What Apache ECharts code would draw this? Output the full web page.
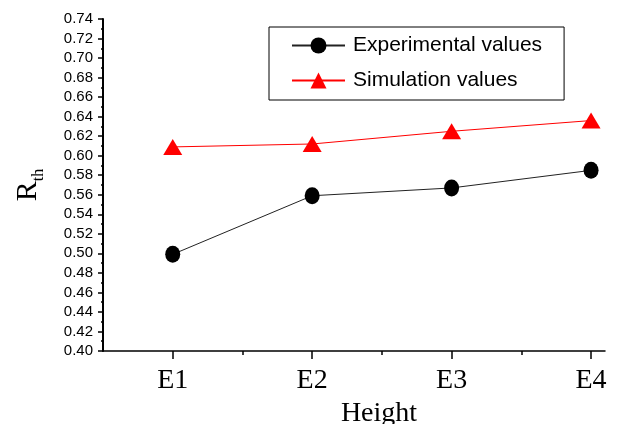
<!DOCTYPE html>
<html>
<head>
<meta charset="utf-8">
<script src="https://cdn.jsdelivr.net/npm/echarts@6/dist/echarts.min.js"></script>
<style>
  html, body { margin: 0; padding: 0; background: #fff; }
  #chart { width: 620px; height: 424px; }
</style>
</head>
<body>
<div id="chart"></div>
<script>
const categories = ['E1', 'E2', 'E3', 'E4'];
const experimental = [0.499, 0.559, 0.567, 0.585];
const simulation = [0.609, 0.612, 0.625, 0.636];
const seriesNames = ['Experimental values', 'Simulation values'];
const yMin = 0.40, yMax = 0.74, yStep = 0.02;
const xAxisName = 'Height';

const catPos = categories.map((c, i) => i + 1);
const midPos = categories.slice(1).map((c, i) => i + 1.5);
const toPoints = arr => arr.map((v, i) => [catPos[i], v]);

const serif = 'Liberation Serif, Times New Roman, serif';
const sans = 'Liberation Sans, Arial, sans-serif';

const chart = echarts.init(document.getElementById('chart'), null, { renderer: 'canvas' });
chart.setOption({
  animation: false,
  backgroundColor: '#fff',
  grid: { left: 103, right: 15, top: 19, bottom: 73, outerBoundsMode: 'none', containLabel: false },
  legend: {
    left: 269, top: 27,
    orient: 'vertical',
    borderColor: '#000', borderWidth: 1,
    padding: [8, 22, 9, 22],
    itemWidth: 53, itemHeight: 20, itemGap: 14,
    textStyle: { fontFamily: sans, fontSize: 21, lineHeight: 20, color: '#000', padding: [0, 0, 0, 3] },
    data: seriesNames
  },
  xAxis: [{
    type: 'value', position: 'bottom',
    min: 0.5, max: 4.1,
    splitLine: { show: false },
    axisLine: { lineStyle: { color: '#000', width: 1.5 } },
    axisTick: { show: true, customValues: catPos, length: 8, lineStyle: { color: '#000', width: 1.5 } },
    axisLabel: {
      customValues: catPos,
      formatter: v => categories[Math.round(v) - 1] || '',
      fontFamily: serif, fontSize: 28, color: '#000', margin: 16
    },
    name: xAxisName, nameLocation: 'middle', nameGap: 46,
    nameTextStyle: { fontFamily: serif, fontSize: 28, color: '#000', padding: [0, 0, 0, 50] }
  }, {
    type: 'value', position: 'bottom',
    min: 0.5, max: 4.1,
    splitLine: { show: false },
    axisLine: { show: false },
    axisTick: { show: true, customValues: midPos, length: 4, lineStyle: { color: '#000', width: 1.5 } },
    axisLabel: { show: false }
  }],
  yAxis: {
    type: 'value',
    min: yMin, max: yMax, interval: yStep,
    splitLine: { show: false },
    axisLine: { show: true, lineStyle: { color: '#000', width: 2 } },
    axisTick: { show: true, length: 5, lineStyle: { color: '#000', width: 1.5 } },
    minorTick: { show: true, splitNumber: 2, length: 2, lineStyle: { color: '#000', width: 1.5 } },
    axisLabel: {
      formatter: v => v.toFixed(2),
      fontFamily: sans, fontSize: 15, color: '#000', margin: 10
    },
    name: '{r|R}{s|th}', nameLocation: 'middle', nameRotate: 90, nameGap: 60,
    nameTextStyle: {
      rich: {
        r: { fontFamily: serif, fontSize: 30, color: '#000' },
        s: { fontFamily: serif, fontSize: 16, color: '#000', verticalAlign: 'bottom', padding: [0, 0, -4, 0] }
      }
    }
  },
  series: [{
    name: seriesNames[0], type: 'line',
    data: toPoints(experimental),
    symbol: 'circle', symbolSize: [15, 17],
    itemStyle: { color: '#000' },
    lineStyle: { color: '#222', width: 1 }
  }, {
    name: seriesNames[1], type: 'line',
    data: toPoints(simulation),
    symbol: 'triangle', symbolSize: [19, 16],
    itemStyle: { color: '#ff0000' },
    lineStyle: { color: '#ff0000', width: 1 }
  }]
});
</script>
</body>
</html>
